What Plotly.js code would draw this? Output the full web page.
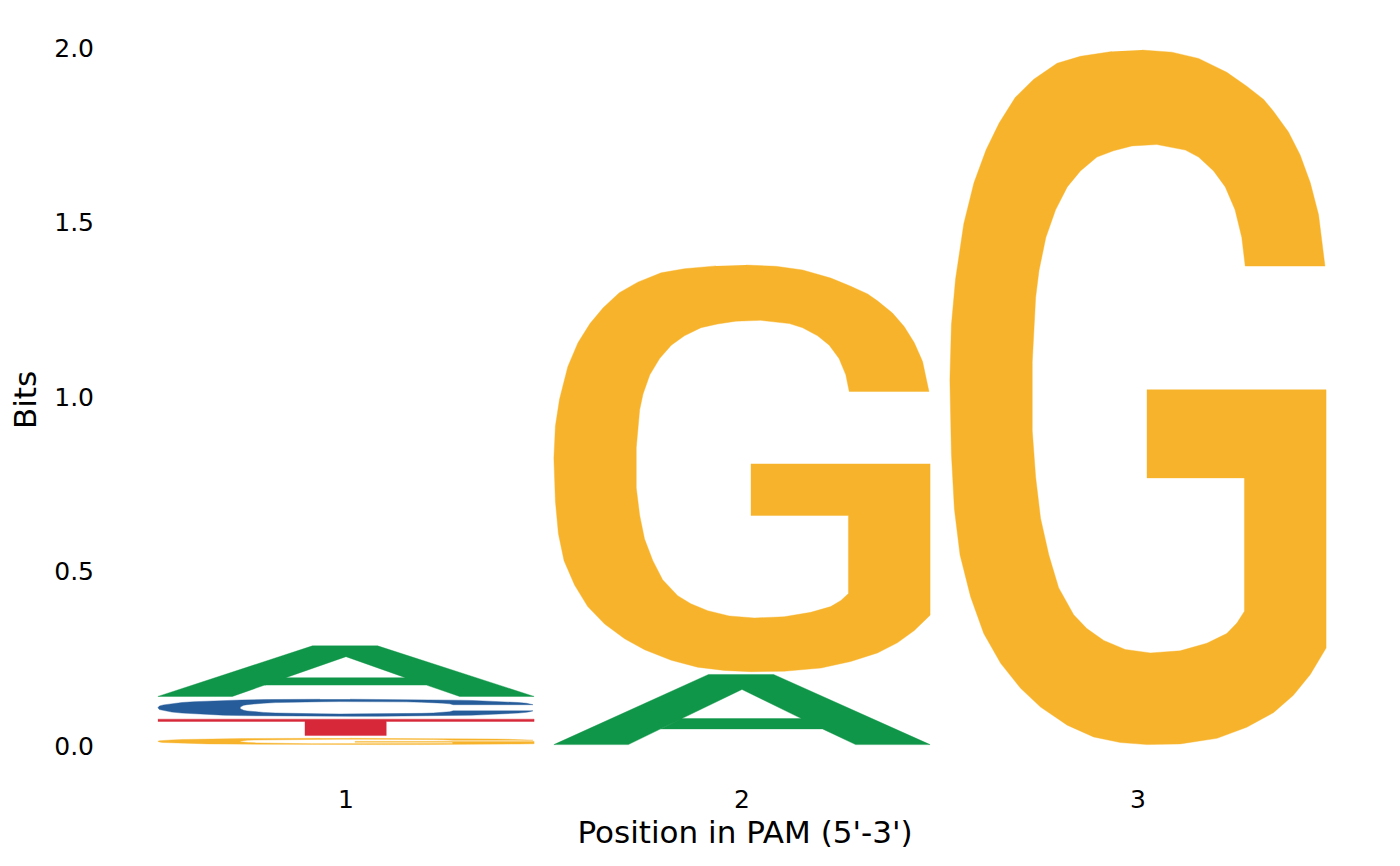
<!DOCTYPE html>
<html>
<head>
<meta charset="utf-8">
<script src="https://cdn.plot.ly/plotly-3.0.1.min.js"></script>
<style>
  html, body { margin: 0; padding: 0; background: #fff; }
  #logo { width: 1400px; height: 866px; }
</style>
</head>
<body>
<div id="logo"></div>
<script>
// PAM 서열 로고 — 위치별 글자 높이(bits). 작은 것부터 아래로 쌓는다.
const POSITIONS = [1, 2, 3];
const POS_LABELS = ['1', '2', '3'];
const BITS_A = [0.153, 0.209, 0];
const BITS_C = [0.057, 0, 0];
const BITS_G = [0.026, 1.173, 1.998];
const BITS_T = [0.055, 0, 0];
const Y_TICKS = [0, 0.5, 1, 1.5, 2];
const Y_TICK_LABELS = ['0.0', '0.5', '1.0', '1.5', '2.0'];

const COLORS = { A: '#109648', C: '#255C99', G: '#F7B32B', T: '#D62839' };
const FONT = '"DejaVu Sans", sans-serif';
const GLYPH_W = 0.95; // 칸 폭 대비 글자 폭
const PAD = 0.004;    // 글자 위아래 여백(bits)

// 글리프 외곽선: 단위 박스(u: 0→1 왼→오, v: 0→1 아래→위).
const G_OUTLINE = [
  [0.511, 1], [0.590, 0.997], [0.661, 0.988], [0.736, 0.968], [0.789, 0.948], [0.834, 0.929],
  [0.860, 0.912], [0.900, 0.882], [0.931, 0.849], [0.958, 0.809], [0.980, 0.763], [0.988, 0.730],
  [0.997, 0.689], [0.785, 0.689],
  [0.776, 0.730], [0.758, 0.770], [0.732, 0.803], [0.701, 0.826], [0.661, 0.846], [0.626, 0.856],
  [0.550, 0.864], [0.484, 0.862], [0.435, 0.855], [0.391, 0.846], [0.347, 0.826], [0.312, 0.803],
  [0.281, 0.770], [0.255, 0.730], [0.237, 0.683], [0.228, 0.644], [0.219, 0.551], [0.219, 0.452],
  [0.228, 0.385], [0.241, 0.326], [0.263, 0.273], [0.289, 0.226], [0.329, 0.187], [0.364, 0.167],
  [0.409, 0.150], [0.466, 0.137], [0.533, 0.132], [0.612, 0.135], [0.683, 0.146], [0.736, 0.160],
  [0.763, 0.175], [0.783, 0.192], [0.783, 0.384], [0.524, 0.384], [0.524, 0.511], [1, 0.511],
  [1, 0.139], [0.958, 0.101], [0.913, 0.071], [0.860, 0.046], [0.789, 0.025], [0.710, 0.009],
  [0.612, 0.001], [0.524, 0], [0.453, 0.003], [0.382, 0.011], [0.312, 0.028], [0.241, 0.054],
  [0.188, 0.081], [0.135, 0.117], [0.090, 0.160], [0.055, 0.213], [0.027, 0.273], [0.012, 0.339],
  [0.004, 0.419], [0, 0.525], [0.004, 0.604], [0.015, 0.670], [0.037, 0.750], [0.064, 0.809],
  [0.096, 0.856], [0.131, 0.895], [0.174, 0.932], [0.223, 0.958], [0.285, 0.981], [0.347, 0.991],
  [0.431, 0.998],
];

// C = G 윗부분을 아래로 대칭
const C_TOP_OUTER = [
  [0.511, 1], [0.590, 0.997], [0.661, 0.988], [0.736, 0.968], [0.789, 0.948], [0.834, 0.929],
  [0.860, 0.912], [0.900, 0.882], [0.931, 0.849], [0.958, 0.809], [0.980, 0.763], [0.988, 0.730],
  [0.997, 0.680],
];
const C_TOP_INNER = [
  [0.785, 0.680], [0.776, 0.730], [0.758, 0.770], [0.732, 0.803], [0.701, 0.826], [0.661, 0.846],
  [0.626, 0.856], [0.550, 0.864], [0.484, 0.862], [0.435, 0.855], [0.391, 0.846], [0.347, 0.826],
  [0.312, 0.803], [0.281, 0.770], [0.255, 0.730], [0.237, 0.683], [0.228, 0.644], [0.219, 0.551],
];
const C_LEFT_TOP = [
  [0, 0.5], [0.004, 0.604], [0.015, 0.670], [0.037, 0.750], [0.064, 0.809], [0.096, 0.856],
  [0.131, 0.895], [0.174, 0.932], [0.223, 0.958], [0.285, 0.981], [0.347, 0.991], [0.431, 0.998],
];
const flip = (pts) => pts.map(([u, v]) => [u, 1 - v]).reverse();
const C_OUTLINE = [
  ...C_TOP_OUTER, ...C_TOP_INNER, ...flip(C_TOP_INNER),
  ...flip(C_TOP_OUTER), ...flip(C_LEFT_TOP).slice(0, -1), ...C_LEFT_TOP,
];

// A: 바깥(시계) → 가로획에서 구멍(반시계)으로 들어갔다 나옴
const A_OUTLINE = [
  [0, 0], [0.411, 1], [0.584, 1], [1, 0], [0.802, 0], [0.714, 0.224], [0.284, 0.224],
  [0.340, 0.371], [0.658, 0.371], [0.500, 0.786], [0.340, 0.371],
  [0.284, 0.224], [0.198, 0], [0, 0],
];

const T_OUTLINE = [
  [0, 1], [1, 1], [1, 0.855], [0.607, 0.855], [0.607, 0], [0.391, 0], [0.391, 0.855], [0, 0.855],
];

const GLYPHS = { A: A_OUTLINE, C: C_OUTLINE, G: G_OUTLINE, T: T_OUTLINE };
const BITS = { A: BITS_A, C: BITS_C, G: BITS_G, T: BITS_T };

// 위치별로 쌓아서 글자마다 채운 다각형 trace 하나
const traces = [];
POSITIONS.forEach((pos, i) => {
  const stack = Object.keys(BITS)
    .map((k) => ({ k, h: BITS[k][i] }))
    .filter((s) => s.h > 0)
    .sort((a, b) => a.h - b.h);
  let base = 0;
  stack.forEach((s) => {
    const y0 = base + PAD, y1 = base + s.h - PAD;
    const pts = GLYPHS[s.k];
    traces.push({
      type: 'scatter', mode: 'lines', fill: 'toself',
      x: pts.map(([u]) => pos - GLYPH_W / 2 + u * GLYPH_W),
      y: pts.map(([, v]) => y0 + v * (y1 - y0)),
      fillcolor: COLORS[s.k], line: { color: COLORS[s.k], width: 0.4 },
      name: s.k, showlegend: false, hoverinfo: 'skip',
    });
    base += s.h;
  });
});

const layout = {
  width: 1400, height: 866,
  paper_bgcolor: '#fff', plot_bgcolor: '#fff',
  font: { family: FONT, color: '#000' },
  margin: { l: 100, r: 10, t: 20, b: 86 },
  showlegend: false,
  xaxis: {
    range: [0.3788, 3.6364], tickvals: POSITIONS, ticktext: POS_LABELS,
    showgrid: false, zeroline: false, showline: false, ticks: '',
    tickfont: { size: 25, color: '#000' }, ticklabelstandoff: 2,
    title: { text: "Position in PAM (5'-3')", font: { size: 31, color: '#000' }, standoff: 4 },
  },
  yaxis: {
    range: [-0.0974, 2.0802], tickvals: Y_TICKS, ticktext: Y_TICK_LABELS,
    showgrid: false, zeroline: false, showline: false, ticks: '',
    tickfont: { size: 25, color: '#000' }, ticklabelstandoff: 5,
    title: { text: 'Bits', font: { size: 31, color: '#000' }, standoff: 8 },
  },
};

Plotly.newPlot('logo', traces, layout, { displayModeBar: false, staticPlot: true });
</script>
</body>
</html>
